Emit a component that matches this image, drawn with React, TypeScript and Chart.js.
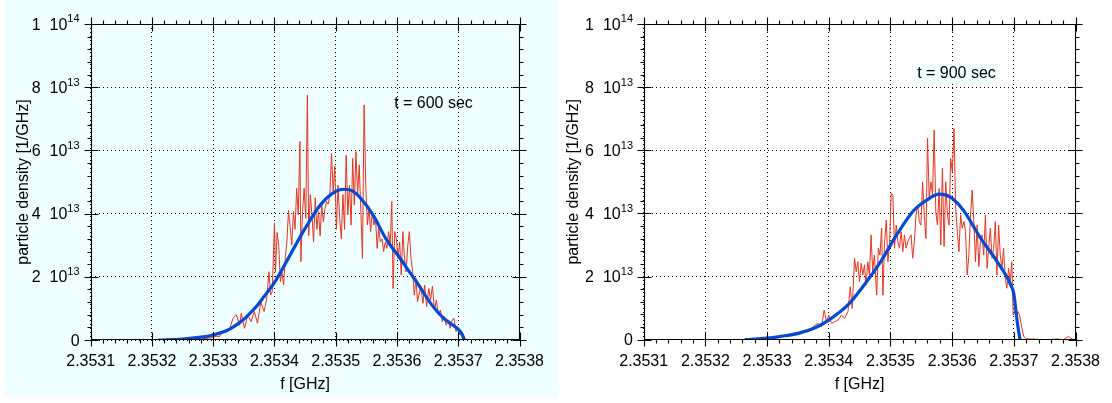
import React, { useEffect, useRef } from 'react';
import { Chart, registerables } from 'chart.js';

Chart.register(...registerables);

const FONT = '"Liberation Sans", Arial, Helvetica, sans-serif';
const RED = '#e6341f';
const BLUE = '#0649d6';
const PANEL_BG = '#effefe';

// axes
const X_MIN = 2.3531;
const X_MAX = 2.3538;
const xTickValues = [2.3531, 2.3532, 2.3533, 2.3534, 2.3535, 2.3536, 2.3537, 2.3538];
const xTickLabels = ['2.3531', '2.3532', '2.3533', '2.3534', '2.3535', '2.3536', '2.3537', '2.3538'];
const X_MINOR_DIV = 5;
const Y_MAX = 10; // units of 1e13
const yTickValues = [0, 2, 4, 6, 8, 10];
const yTickMantissas = ['0', '2', '4', '6', '8', '1'];
const yTickExponents = ['', '13', '13', '13', '13', '14'];
const Y_MINOR_DIV = 5;
const X_TITLE = 'f [GHz]';
const Y_TITLE = 'particle density [1/GHz]';

// t = 600 sec : measured spectrum (1e13 / GHz)
const freq600 = [
  2.35322, 2.35325, 2.35328, 2.3533, 2.353305, 2.35331, 2.3533165, 2.353322, 2.3533271, 2.3533324,
  2.3533378, 2.3533431, 2.3533457, 2.3533511, 2.3533564, 2.3533617, 2.353367, 2.3533723, 2.3533777, 2.353383,
  2.3533872, 2.353391, 2.3533936, 2.3533963, 2.3534, 2.3534016, 2.3534043, 2.3534069, 2.3534096, 2.3534122,
  2.3534149, 2.3534176, 2.3534202, 2.3534229, 2.3534255, 2.3534282, 2.3534309, 2.3534335, 2.3534362, 2.3534388,
  2.3534415, 2.3534431, 2.3534458, 2.3534484, 2.3534511, 2.3534537, 2.3534559, 2.3534585, 2.3534612, 2.3534638,
  2.3534665, 2.3534692, 2.3534718, 2.3534745, 2.3534771, 2.3534798, 2.3534825, 2.3534851, 2.3534878, 2.3534904,
  2.3534931, 2.3534958, 2.3534984, 2.3535011, 2.3535037, 2.3535064, 2.3535091, 2.3535117, 2.3535144, 2.353517,
  2.3535197, 2.3535224, 2.353525, 2.3535277, 2.3535303, 2.353533, 2.3535357, 2.3535383, 2.353541, 2.3535436,
  2.3535463, 2.353549, 2.3535516, 2.3535543, 2.3535569, 2.3535596, 2.3535623, 2.3535649, 2.3535676, 2.3535702,
  2.3535729, 2.3535756, 2.3535782, 2.3535809, 2.3535835, 2.3535862, 2.3535889, 2.3535915, 2.3535936, 2.3535963,
  2.353599, 2.3536016, 2.3536043, 2.3536069, 2.3536096, 2.3536123, 2.3536149, 2.3536176, 2.3536202, 2.3536229,
  2.3536256, 2.3536282, 2.3536309, 2.3536335, 2.3536387, 2.3536424, 2.3536451, 2.3536483, 2.353652, 2.3536547,
  2.3536579, 2.3536611, 2.3536643, 2.3536675, 2.3536707, 2.3536739, 2.3536771, 2.3536803, 2.3536835, 2.3536867,
  2.3536899, 2.3536931, 2.3536963, 2.3536995, 2.3537027, 2.3537059, 2.3537091, 2.3537133, 2.35373, 2.35375,
  2.35377, 2.35379, 2.3538,
];
const dens600 = [
  0.0, 0.02, 0.03, 0.08, 0.12, 0.1, 0.3, 0.25, 0.37, 0.69,
  0.8, 0.47, 0.84, 0.37, 0.8, 0.58, 0.9, 0.53, 1.2, 0.9,
  1.3, 2.16, 1.42, 1.53, 3.7, 2.16, 3.4, 3.0, 1.85, 2.16,
  1.74, 2.6, 3.1, 4.1, 3.6, 3.0, 4.06, 3.5, 4.8, 3.96,
  6.28, 2.48, 4.06, 4.8, 3.85, 7.75, 3.3, 4.6, 3.96, 3.1,
  4.5, 3.5, 4.06, 3.3, 4.27, 3.74, 4.17, 4.38, 4.3, 4.6,
  5.9, 4.7, 5.5, 3.5, 4.9, 3.85, 3.2, 4.6, 3.5, 5.85,
  3.96, 4.9, 3.64, 5.75, 4.27, 5.96, 4.6, 5.54, 4.06, 2.58,
  7.44, 4.9, 3.64, 4.17, 3.43, 4.06, 3.64, 3.85, 2.9, 3.53,
  3.1, 3.2, 2.8, 3.1, 2.9, 3.43, 3.0, 4.38, 1.63, 3.43,
  3.2, 2.58, 3.1, 2.05, 3.43, 2.58, 2.16, 3.0, 3.43, 2.58,
  2.16, 1.42, 1.95, 1.21, 1.7, 1.16, 1.74, 1.05, 1.63, 1.27,
  1.7, 0.95, 1.27, 0.79, 0.95, 0.58, 0.74, 0.47, 0.63, 0.37,
  0.63, 0.69, 0.26, 0.37, 0.16, 0.26, 0.05, 0.02, 0.0, 0.02,
  0.0, 0.02, 0.0,
];
// t = 600 sec : smooth fit
const fitFreq600 = [
  2.35321, 2.35325, 2.35328, 2.3533, 2.353316, 2.353329, 2.353343, 2.353355, 2.35337, 2.353382,
  2.3534, 2.353423, 2.353449, 2.353476, 2.3535, 2.353513, 2.353527, 2.35354, 2.353561, 2.353582,
  2.3536, 2.353617, 2.353636, 2.353655, 2.353676, 2.353697, 2.353703, 2.353707, 2.35371,
];
const fit600 = [
  0, 0.03, 0.09, 0.16, 0.25, 0.37, 0.55, 0.75, 1.05, 1.35,
  1.82, 2.6, 3.5, 4.3, 4.7, 4.77, 4.72, 4.5, 3.95, 3.2,
  2.72, 2.25, 1.72, 1.16, 0.69, 0.39, 0.28, 0.15, 0,
];

// t = 900 sec : measured spectrum (1e13 / GHz)
const freq900 = [
  2.35327, 2.35329, 2.3533, 2.35331, 2.35332, 2.35333, 2.35334, 2.353345, 2.3533507, 2.3533561,
  2.3533614, 2.3533668, 2.3533721, 2.3533775, 2.3533829, 2.3533882, 2.3533925, 2.3533963, 2.3534, 2.3534043,
  2.3534096, 2.353415, 2.3534204, 2.3534257, 2.3534311, 2.3534348, 2.353438, 2.3534418, 2.3534445, 2.3534471,
  2.3534498, 2.3534525, 2.3534552, 2.3534578, 2.3534605, 2.3534632, 2.3534659, 2.3534686, 2.3534712, 2.3534739,
  2.3534777, 2.3534803, 2.353483, 2.3534857, 2.3534878, 2.3534905, 2.3534932, 2.3534959, 2.3534986, 2.3535012,
  2.3535039, 2.3535066, 2.3535093, 2.353512, 2.3535146, 2.3535173, 2.35352, 2.3535227, 2.3535253, 2.353528,
  2.3535307, 2.3535334, 2.353536, 2.3535387, 2.3535414, 2.3535441, 2.3535468, 2.3535494, 2.3535521, 2.3535548,
  2.3535575, 2.3535601, 2.3535628, 2.3535655, 2.3535682, 2.3535709, 2.3535735, 2.3535762, 2.3535789, 2.3535816,
  2.3535842, 2.3535869, 2.3535896, 2.3535923, 2.353595, 2.3535976, 2.3536003, 2.353603, 2.3536057, 2.3536084,
  2.353611, 2.3536137, 2.3536164, 2.3536191, 2.3536217, 2.3536244, 2.3536271, 2.3536298, 2.3536325, 2.3536351,
  2.3536378, 2.3536405, 2.3536432, 2.3536458, 2.3536485, 2.3536512, 2.3536539, 2.3536566, 2.3536592, 2.3536619,
  2.3536646, 2.3536673, 2.35367, 2.3536726, 2.3536753, 2.353678, 2.3536807, 2.3536833, 2.353686, 2.3536887,
  2.3536914, 2.3536941, 2.3536967, 2.3536989, 2.3537016, 2.3537042, 2.3537069, 2.3537096, 2.3537128, 2.353716,
  2.3537203, 2.35373, 2.35375, 2.35377, 2.35378, 2.3537885, 2.353795, 2.3538,
];
const dens900 = [
  0.0, 0.02, 0.05, 0.08, 0.1, 0.15, 0.12, 0.2, 0.15, 0.2,
  0.25, 0.3, 0.36, 0.46, 0.52, 0.41, 0.94, 0.57, 0.78, 0.52,
  0.57, 0.62, 0.78, 0.68, 0.89, 1.68, 0.99, 2.58, 2.15, 2.47,
  1.84, 2.42, 2.05, 2.37, 1.73, 2.47, 2.05, 3.32, 2.15, 2.68,
  1.41, 2.9, 2.68, 3.53, 1.41, 3.1, 3.79, 2.47, 3.1, 4.64,
  4.58, 2.9, 3.63, 3.1, 2.9, 3.42, 2.79, 3.32, 2.9, 3.1,
  3.21, 3.32, 2.58, 3.1, 3.95, 4.27, 3.74, 3.63, 5.0, 3.95,
  3.21, 6.38, 4.48, 5.0, 4.58, 6.64, 4.05, 3.63, 4.79, 3.0,
  5.43, 2.95, 5.0, 3.95, 3.63, 5.74, 5.32, 6.69, 4.16, 3.42,
  2.79, 3.95, 3.53, 3.74, 3.42, 2.05, 2.68, 3.95, 4.74, 3.74,
  2.47, 3.63, 2.31, 3.1, 3.32, 2.68, 3.95, 2.26, 2.9, 3.53,
  2.58, 2.9, 3.74, 2.05, 3.63, 2.68, 2.26, 2.9, 1.94, 1.63,
  2.26, 1.84, 2.47, 0.78, 0.89, 0.78, 0.89, 0.75, 0.4, 0.1,
  0.03, 0.02, 0.0, 0.02, 0.0, 0.1, 0.02, 0.0,
];
// t = 900 sec : smooth fit
const fitFreq900 = [
  2.353264, 2.35328, 2.3533, 2.35332, 2.35335, 2.353378, 2.3534, 2.353431, 2.353458, 2.353485,
  2.353511, 2.353538, 2.353565, 2.353578, 2.35359, 2.3536, 2.353619, 2.353645, 2.353672, 2.353694,
  2.3537, 2.353702, 2.353704, 2.353707, 2.35371,
];
const fit900 = [
  0, 0.02, 0.05, 0.1, 0.2, 0.38, 0.62, 1.1, 1.75, 2.5,
  3.35, 4.1, 4.5, 4.61, 4.58, 4.48, 4.08, 3.25, 2.5, 1.78,
  1.45, 1.15, 0.8, 0.36, 0,
];

const framePlugin = {
  id: 'frame',
  afterDraw(chart: any, _args: any, opts: any) {
    const { ctx, chartArea } = chart;
    const xs = chart.scales.x;
    const ys = chart.scales.y;
    const L = Math.round(chartArea.left) + 0.5;
    const R = Math.round(chartArea.right) - 0.5;
    const T = Math.round(chartArea.top) + 0.5;
    const B = Math.round(chartArea.bottom) - 0.5;
    ctx.save();
    ctx.strokeStyle = '#000';
    ctx.lineWidth = 1.1;
    ctx.beginPath();
    ctx.rect(L, T, R - L, B - T);
    ctx.stroke();
    ctx.beginPath();
    // x ticks (bottom + top)
    for (let i = 0; i < xTickValues.length; i++) {
      const px = Math.round(xs.getPixelForValue(xTickValues[i])) + 0.5;
      ctx.moveTo(px, B - 7); ctx.lineTo(px, B + 7);
      ctx.moveTo(px, T - 7); ctx.lineTo(px, T + 7);
      if (i < xTickValues.length - 1) {
        const step = (xTickValues[i + 1] - xTickValues[i]) / X_MINOR_DIV;
        for (let k = 1; k < X_MINOR_DIV; k++) {
          const mx = Math.round(xs.getPixelForValue(xTickValues[i] + k * step)) + 0.5;
          ctx.moveTo(mx, B); ctx.lineTo(mx, B + 4);
          ctx.moveTo(mx, T); ctx.lineTo(mx, T - 4);
        }
      }
    }
    // y ticks (left + right)
    for (let i = 0; i < yTickValues.length; i++) {
      const py = Math.round(ys.getPixelForValue(yTickValues[i])) + 0.5;
      ctx.moveTo(L - 7, py); ctx.lineTo(L + 7, py);
      ctx.moveTo(R - 7, py); ctx.lineTo(R + 7, py);
      if (i < yTickValues.length - 1) {
        const step = (yTickValues[i + 1] - yTickValues[i]) / Y_MINOR_DIV;
        for (let k = 1; k < Y_MINOR_DIV; k++) {
          const my = Math.round(ys.getPixelForValue(yTickValues[i] + k * step)) + 0.5;
          ctx.moveTo(L, my); ctx.lineTo(L - 4, my);
          ctx.moveTo(R, my); ctx.lineTo(R + 4, my);
        }
      }
    }
    ctx.stroke();

    // y tick labels with exponents
    ctx.fillStyle = '#000';
    ctx.textBaseline = 'alphabetic';
    for (let i = 0; i < yTickValues.length; i++) {
      const py = ys.getPixelForValue(yTickValues[i]);
      const exp = yTickExponents[i];
      ctx.textAlign = 'right';
      if (!exp) {
        ctx.font = `16px ${FONT}`;
        ctx.fillText(yTickMantissas[i], opts.labelRight, py + 5.6);
        continue;
      }
      ctx.font = `11px ${FONT}`;
      const ew = ctx.measureText(exp).width;
      ctx.fillText(exp, opts.labelRight, py - 1.6);
      ctx.font = `16px ${FONT}`;
      const tenRight = opts.labelRight - ew;
      ctx.fillText('10', tenRight, py + 5.6);
      const tw = ctx.measureText('10').width;
      ctx.fillText(yTickMantissas[i], tenRight - tw - 9, py + 5.6);
    }

    // axis titles
    ctx.font = `16px ${FONT}`;
    ctx.textAlign = 'center';
    ctx.textBaseline = 'middle';
    ctx.fillText(X_TITLE, (chartArea.left + chartArea.right) / 2, opts.xTitleY);
    ctx.save();
    ctx.translate(opts.yTitleX, (chartArea.top + chartArea.bottom) / 2);
    ctx.rotate(-Math.PI / 2);
    ctx.fillText(Y_TITLE, 0, 0);
    ctx.restore();

    // legend label
    ctx.font = `16px ${FONT}`;
    const lw = ctx.measureText(opts.legend).width;
    if (opts.legendBg) {
      ctx.fillStyle = opts.legendBg;
      ctx.fillRect(opts.legendX - lw / 2 - 2, opts.legendY - 10, lw + 4, 20);
    }
    ctx.fillStyle = '#000';
    ctx.fillText(opts.legend, opts.legendX, opts.legendY);
    ctx.restore();
  },
};

type PanelProps = {
  freq: number[];
  dens: number[];
  fitFreq: number[];
  fit: number[];
  legend: string;
  legendX: number;
  legendY: number;
  legendBg: string | null;
  left: number;
  yAxisWidth: number;
  rightPad: number;
  xAxisHeight: number;
  labelRight: number;
  yTitleX: number;
};

function Panel(p: PanelProps) {
  const ref = useRef<HTMLCanvasElement | null>(null);
  useEffect(() => {
    if (!ref.current) return;
    const raw = p.freq.map((f, i) => ({ x: f, y: p.dens[i] }));
    const smooth = p.fitFreq.map((f, i) => ({ x: f, y: p.fit[i] }));
    const chart = new Chart(ref.current, {
      type: 'line',
      data: {
        datasets: [
          {
            data: smooth,
            borderColor: BLUE,
            borderWidth: 3.2,
            pointRadius: 0,
            cubicInterpolationMode: 'monotone',
            fill: false,
            order: 0,
          } as any,
          {
            data: raw,
            borderColor: RED,
            borderWidth: 1,
            pointRadius: 0,
            tension: 0,
            fill: false,
            order: 1,
          } as any,
        ],
      },
      options: {
        animation: false,
        responsive: false,
        events: [],
        layout: { padding: { left: 0, top: 24, right: p.rightPad, bottom: 0 } },
        scales: {
          x: {
            type: 'linear',
            min: X_MIN,
            max: X_MAX,
            afterBuildTicks: (s: any) => {
              s.ticks = xTickValues.map((v) => ({ value: v }));
            },
            afterFit: (s: any) => {
              s.height = p.xAxisHeight;
            },
            grid: { color: '#000', lineWidth: 1, drawTicks: false },
            border: { display: false, dash: [1, 3] },
            ticks: {
              padding: 12,
              color: '#000',
              font: { family: FONT, size: 16 },
              maxRotation: 0,
              autoSkip: false,
              callback: (_v: any, i: number) => xTickLabels[i],
            },
          },
          y: {
            type: 'linear',
            min: 0,
            max: Y_MAX,
            afterBuildTicks: (s: any) => {
              s.ticks = yTickValues.map((v) => ({ value: v }));
            },
            afterFit: (s: any) => {
              s.width = p.yAxisWidth;
            },
            grid: { color: '#000', lineWidth: 1, drawTicks: false },
            border: { display: false, dash: [1, 3] },
            ticks: { display: false },
          },
        },
        plugins: {
          legend: { display: false },
          tooltip: { enabled: false },
          frame: {
            labelRight: p.labelRight,
            yTitleX: p.yTitleX,
            xTitleY: 385,
            legend: p.legend,
            legendX: p.legendX,
            legendY: p.legendY,
            legendBg: p.legendBg,
          },
        } as any,
      },
      plugins: [framePlugin],
    });
    return () => chart.destroy();
  }, []);
  return (
    <canvas
      ref={ref}
      width={556}
      height={403}
      style={{ position: 'absolute', left: p.left, top: 0, width: 556, height: 403 }}
    />
  );
}

export default function App() {
  return (
    <div style={{ position: 'absolute', left: 0, top: 0, width: 1112, height: 403, background: '#fff', overflow: 'hidden' }}>
      <div style={{ position: 'absolute', left: 5, top: 0, width: 553, height: 397, background: PANEL_BG }} />
      <Panel
        freq={freq600}
        dens={dens600}
        fitFreq={fitFreq600}
        fit={fit600}
        legend="t = 600 sec"
        legendX={433.5}
        legendY={103.5}
        legendBg={null}
        left={0}
        yAxisWidth={90.7}
        rightPad={28.3}
        xAxisHeight={63}
        labelRight={79.6}
        yTitleX={24}
      />
      <Panel
        freq={freq900}
        dens={dens900}
        fitFreq={fitFreq900}
        fit={fit900}
        legend="t = 900 sec"
        legendX={400.5}
        legendY={74}
        legendBg={PANEL_BG}
        left={556}
        yAxisWidth={87.7}
        rightPad={32}
        xAxisHeight={63.3}
        labelRight={77}
        yTitleX={18}
      />
    </div>
  );
}
